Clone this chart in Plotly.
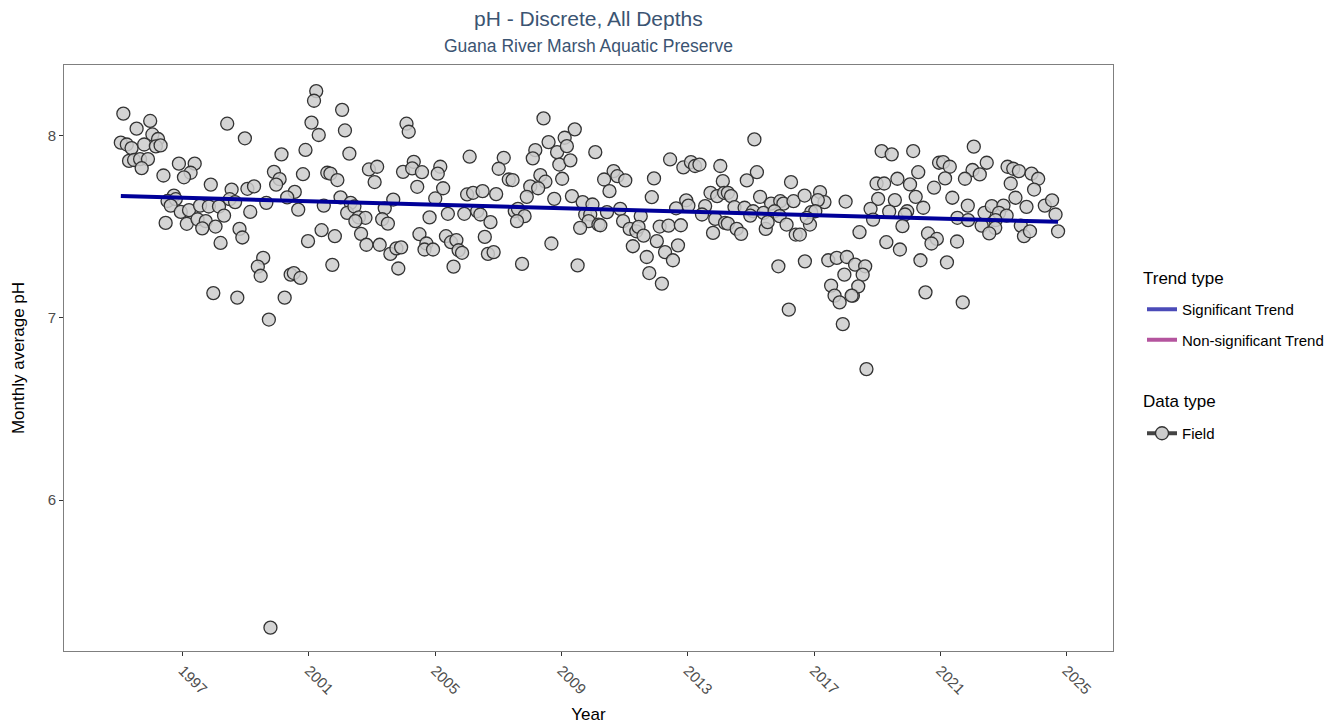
import plotly.graph_objects as go

# ---- data (decimal year, monthly average pH) ----
years_a = [1995.12, 1995.54, 1995.97, 1996.04, 1996.22, 1995.04, 1995.23, 1995.38, 1995.78, 1996.15,
           1996.30, 1995.30, 1995.46, 1995.65, 1995.90, 1995.70, 1996.39, 1996.88, 1997.38, 1997.25,
           1997.04, 1997.89, 1996.72, 1996.52, 1996.78, 1996.62, 1996.94, 1997.20, 1997.55, 1997.83,
           1998.15, 1998.31, 1996.46, 1997.13, 1997.47, 1997.73, 1997.62, 1998.04, 1998.20, 1997.97]
ph_a = [8.119, 8.037, 8.079, 8.005, 7.980, 7.960, 7.950, 7.930, 7.950, 7.940,
        7.945, 7.860, 7.865, 7.870, 7.870, 7.820, 7.780, 7.845, 7.845, 7.795,
        7.770, 7.730, 7.670, 7.640, 7.650, 7.615, 7.580, 7.590, 7.615, 7.610,
        7.610, 7.560, 7.520, 7.515, 7.540, 7.530, 7.490, 7.500, 7.410, 7.135]

years_b = [2001.23, 2001.16, 2002.05, 1998.41, 2002.14, 2001.08, 2001.31, 1998.97, 2000.13, 2000.89,
           2002.28, 1999.89, 2000.07, 1999.96, 2000.81, 2001.58, 2001.68, 2001.90, 1998.55, 1999.05,
           1999.26, 2000.55, 2000.31, 1999.65, 1998.49, 1998.66, 2002.00, 2002.32, 2001.47, 2000.66,
           1999.14, 2002.21, 2001.40, 2001.82, 2000.97, 1998.80, 1998.89, 1999.55, 1999.38, 1999.47,
           2000.42, 2000.52, 2000.73, 2001.74, 1998.73, 2000.23, 1999.73, 1999.78]
ph_b = [8.243, 8.190, 8.140, 8.064, 8.027, 8.070, 8.002, 7.984, 7.896, 7.920,
        7.900, 7.800, 7.760, 7.730, 7.787, 7.795, 7.790, 7.755, 7.703, 7.707,
        7.720, 7.690, 7.660, 7.630, 7.650, 7.634, 7.660, 7.630, 7.615, 7.593,
        7.580, 7.575, 7.480, 7.447, 7.420, 7.487, 7.440, 7.328, 7.280, 7.230,
        7.236, 7.245, 7.218, 7.290, 7.110, 7.110, 6.990, 5.300]

years_c = [2004.09, 2004.16, 2006.09, 2002.90, 2003.16, 2003.08, 2003.98, 2004.32, 2004.27, 2004.58,
           2005.16, 2005.08, 2004.43, 2005.25, 2005.00, 2006.01, 2006.20, 2003.67, 2003.40, 2002.44,
           2002.58, 2002.79, 2002.47, 2003.32, 2003.50, 2004.82, 2005.40, 2005.92, 2002.65, 2002.82,
           2003.24, 2003.58, 2003.77, 2003.92, 2003.83, 2004.50, 2004.72, 2004.66, 2004.93, 2005.34,
           2005.50, 2005.67, 2005.74, 2005.85, 2005.58]
ph_c = [8.064, 8.020, 7.883, 7.813, 7.828, 7.744, 7.800, 7.855, 7.819, 7.798,
        7.828, 7.790, 7.718, 7.710, 7.654, 7.676, 7.685, 7.648, 7.600, 7.610,
        7.550, 7.548, 7.530, 7.540, 7.516, 7.550, 7.570, 7.570, 7.460, 7.400,
        7.400, 7.350, 7.380, 7.386, 7.270, 7.458, 7.407, 7.374, 7.374, 7.447,
        7.414, 7.425, 7.370, 7.356, 7.280]

years_d = [2008.43, 2009.42, 2008.59, 2009.10, 2008.86, 2009.17, 2008.17, 2008.09, 2007.17, 2007.01,
           2008.93, 2009.28, 2010.07, 2008.33, 2008.49, 2007.33, 2007.45, 2009.02, 2008.01, 2008.26,
           2007.90, 2008.77, 2009.33, 2009.67, 2009.98, 2006.50, 2006.93, 2006.33, 2006.43, 2006.75,
           2007.52, 2007.62, 2007.83, 2007.59, 2009.75, 2009.91, 2009.86, 2009.59, 2010.17, 2006.57,
           2006.67, 2006.85, 2008.68, 2007.75, 2009.51]
ph_d = [8.093, 8.033, 7.963, 7.987, 7.908, 7.941, 7.919, 7.874, 7.877, 7.817,
        7.840, 7.863, 7.908, 7.782, 7.746, 7.758, 7.755, 7.762, 7.720, 7.710,
        7.663, 7.652, 7.667, 7.634, 7.621, 7.694, 7.678, 7.584, 7.566, 7.524,
        7.584, 7.597, 7.557, 7.530, 7.566, 7.566, 7.530, 7.493, 7.511, 7.443,
        7.350, 7.360, 7.407, 7.295, 7.287]

years_e = [2012.44, 2012.86, 2013.10, 2013.23, 2013.37, 2014.03, 2014.11, 2010.65, 2010.77, 2011.02,
           2010.35, 2010.52, 2011.93, 2011.86, 2013.72, 2013.93, 2014.15, 2012.95, 2013.02, 2012.63,
           2013.55, 2010.44, 2010.86, 2011.51, 2013.45, 2013.87, 2014.18, 2010.23, 2010.95, 2011.16,
           2011.37, 2011.44, 2011.60, 2012.11, 2012.39, 2012.78, 2013.80, 2011.26, 2012.02, 2012.28,
           2012.53, 2012.69, 2011.70, 2011.78, 2012.18]
ph_e = [7.868, 7.824, 7.853, 7.832, 7.840, 7.832, 7.749, 7.804, 7.776, 7.753,
        7.758, 7.694, 7.764, 7.661, 7.685, 7.667, 7.685, 7.644, 7.615, 7.600,
        7.612, 7.579, 7.597, 7.557, 7.566, 7.542, 7.520, 7.507, 7.530, 7.487,
        7.474, 7.498, 7.450, 7.500, 7.505, 7.507, 7.465, 7.392, 7.420, 7.360,
        7.315, 7.397, 7.333, 7.245, 7.187]

years_f = [2015.11, 2015.19, 2014.87, 2016.27, 2014.27, 2014.37, 2015.29, 2015.64, 2015.93, 2016.03,
           2016.35, 2016.70, 2017.19, 2017.33, 2017.12, 2018.00, 2014.48, 2014.80, 2015.07, 2015.40,
           2015.75, 2015.91, 2014.98, 2016.91, 2017.04, 2014.27, 2014.55, 2014.69, 2015.47, 2015.53,
           2016.13, 2016.42, 2016.55, 2016.87, 2016.77, 2015.87, 2016.71, 2017.45, 2017.72, 2018.04,
           2017.96, 2017.54, 2017.65, 2017.81, 2018.23, 2016.20, 2017.91]
ph_f = [7.978, 7.798, 7.753, 7.744, 7.685, 7.667, 7.663, 7.626, 7.639, 7.626,
        7.639, 7.670, 7.689, 7.634, 7.645, 7.637, 7.606, 7.603, 7.584, 7.575,
        7.584, 7.557, 7.560, 7.579, 7.584, 7.516, 7.487, 7.460, 7.487, 7.524,
        7.511, 7.456, 7.456, 7.511, 7.548, 7.282, 7.309, 7.315, 7.328, 7.333,
        7.236, 7.176, 7.121, 7.084, 7.121, 7.044, 6.965]

years_g = [2019.14, 2019.46, 2020.14, 2020.96, 2021.09, 2021.30, 2022.06, 2022.02, 2021.78, 2020.30,
           2019.64, 2018.98, 2019.22, 2020.04, 2020.80, 2021.15, 2019.03, 2019.56, 2020.22, 2021.38,
           2021.87, 2018.79, 2019.38, 2019.95, 2019.88, 2020.46, 2018.87, 2021.54, 2021.88, 2019.80,
           2018.44, 2019.29, 2019.72, 2020.61, 2020.89, 2020.72, 2021.53, 2020.37, 2021.21, 2018.30,
           2018.62, 2018.54, 2018.40, 2018.19, 2020.53, 2021.71, 2018.66]
ph_g = [7.914, 7.896, 7.914, 7.850, 7.853, 7.828, 7.938, 7.810, 7.762, 7.798,
        7.762, 7.736, 7.736, 7.731, 7.713, 7.764, 7.652, 7.645, 7.663, 7.658,
        7.615, 7.597, 7.582, 7.584, 7.566, 7.603, 7.538, 7.548, 7.535, 7.502,
        7.469, 7.414, 7.374, 7.462, 7.432, 7.407, 7.418, 7.315, 7.304, 7.291,
        7.282, 7.236, 7.172, 7.121, 7.139, 7.084, 6.718]

years_h = [2022.47, 2022.25, 2023.13, 2023.31, 2023.49, 2023.89, 2024.10, 2023.97, 2023.23, 2023.38,
           2023.73, 2024.31, 2024.54, 2024.65, 2024.73, 2022.40, 2022.63, 2023.00, 2022.86, 2023.10,
           2022.75, 2022.31, 2022.74, 2022.55, 2023.55, 2023.65, 2023.84]
ph_h = [7.850, 7.786, 7.828, 7.817, 7.804, 7.790, 7.762, 7.703, 7.736, 7.658,
        7.608, 7.615, 7.644, 7.566, 7.474, 7.575, 7.612, 7.615, 7.575, 7.560,
        7.535, 7.505, 7.493, 7.462, 7.505, 7.447, 7.474]

years = years_a + years_b + years_c + years_d + years_e + years_f + years_g + years_h
ph = ph_a + ph_b + ph_c + ph_d + ph_e + ph_f + ph_g + ph_h

# trend (significant): value at start and slope per year
trend_start_value = 7.667
trend_slope = -0.00475
x_ticks = [1997, 2001, 2005, 2009, 2013, 2017, 2021, 2025]
y_ticks = [6, 7, 8]

x0, x1 = min(years), max(years)
trend_x = [x0, x1]
trend_y = [trend_start_value, trend_start_value + trend_slope * (x1 - x0)]

FONT = "Liberation Sans, Arial, sans-serif"

# layout geometry (pixels)
W, H = 1343, 728
ML, MR, MT, MB = 64, 230, 65, 77
plot_w = W - ML - MR
plot_h = H - MT - MB


def px_x(p):
    return (p - ML) / plot_w


def px_y(p):
    return 1 - (p - MT) / plot_h


fig = go.Figure()

fig.add_trace(go.Scatter(
    x=years, y=ph, mode="markers", showlegend=False,
    marker=dict(size=13, color="rgba(204,204,204,0.85)",
                line=dict(color="#333333", width=1.3)),
    hoverinfo="x+y",
))

fig.add_trace(go.Scatter(
    x=trend_x, y=trend_y, mode="lines", showlegend=False,
    line=dict(color="#000099", width=4),
))

# legend entries
fig.add_trace(go.Scatter(
    x=[None], y=[None], mode="lines", name="Significant Trend",
    line=dict(color="#4B4BB8", width=4), legend="legend", legendgroup="sig",
))
fig.add_trace(go.Scatter(
    x=[None], y=[None], mode="lines", name="Non-significant Trend",
    line=dict(color="#B4549E", width=4), legend="legend", legendgroup="nonsig",
))
fig.add_trace(go.Scatter(
    x=[None], y=[None], mode="lines+markers", name="Field",
    line=dict(color="#444444", width=4),
    marker=dict(size=13, color="#cccccc", line=dict(color="#333333", width=1.3)),
    legend="legend2",
))

axis_common = dict(
    showgrid=False, zeroline=False, showline=True, mirror=True, automargin=False,
    linecolor="#7f7f7f", linewidth=1, ticks="outside", ticklen=4,
    tickcolor="#333333", tickfont=dict(family=FONT, size=15, color="#4d4d4d"),
)

fig.update_layout(
    width=W, height=H,
    margin=dict(l=ML, r=MR, t=MT, b=MB, autoexpand=False),
    paper_bgcolor="white", plot_bgcolor="white",
    font=dict(family=FONT),
    xaxis=dict(range=[1993.24, 2026.47], tickvals=x_ticks, tickangle=45,
               title=dict(text="Year", font=dict(family=FONT, size=17, color="black"), standoff=11),
               **axis_common),
    yaxis=dict(range=[5.172, 8.386], tickvals=y_ticks,
               title=dict(text="Monthly average pH", font=dict(family=FONT, size=17, color="black"), standoff=18),
               **axis_common),
    legend=dict(
        x=px_x(1142), xanchor="left", y=px_y(293), yanchor="top",
        font=dict(family=FONT, size=15, color="black"),
        traceorder="grouped", tracegroupgap=8, bgcolor="rgba(0,0,0,0)",
    ),
    legend2=dict(
        x=px_x(1142), xanchor="left", y=px_y(417), yanchor="top",
        font=dict(family=FONT, size=15, color="black"), bgcolor="rgba(0,0,0,0)",
    ),
    annotations=[
        dict(text="pH - Discrete, All Depths", x=0.5, y=px_y(19), yanchor="middle",
             xref="paper", yref="paper", showarrow=False,
             font=dict(family=FONT, size=21, color="#3B5472")),
        dict(text="Guana River Marsh Aquatic Preserve", x=0.5, y=px_y(46), yanchor="middle",
             xref="paper", yref="paper", showarrow=False,
             font=dict(family=FONT, size=17.5, color="#3B5472")),
        dict(text="Trend type", x=px_x(1141), y=px_y(278), xanchor="left", yanchor="middle",
             xref="paper", yref="paper", showarrow=False,
             font=dict(family=FONT, size=17, color="black")),
        dict(text="Data type", x=px_x(1141), y=px_y(401), xanchor="left", yanchor="middle",
             xref="paper", yref="paper", showarrow=False,
             font=dict(family=FONT, size=17, color="black")),
    ],
)

fig.write_html("out.html", config={"displayModeBar": False},
               post_script="document.body.style.margin='0px';")
